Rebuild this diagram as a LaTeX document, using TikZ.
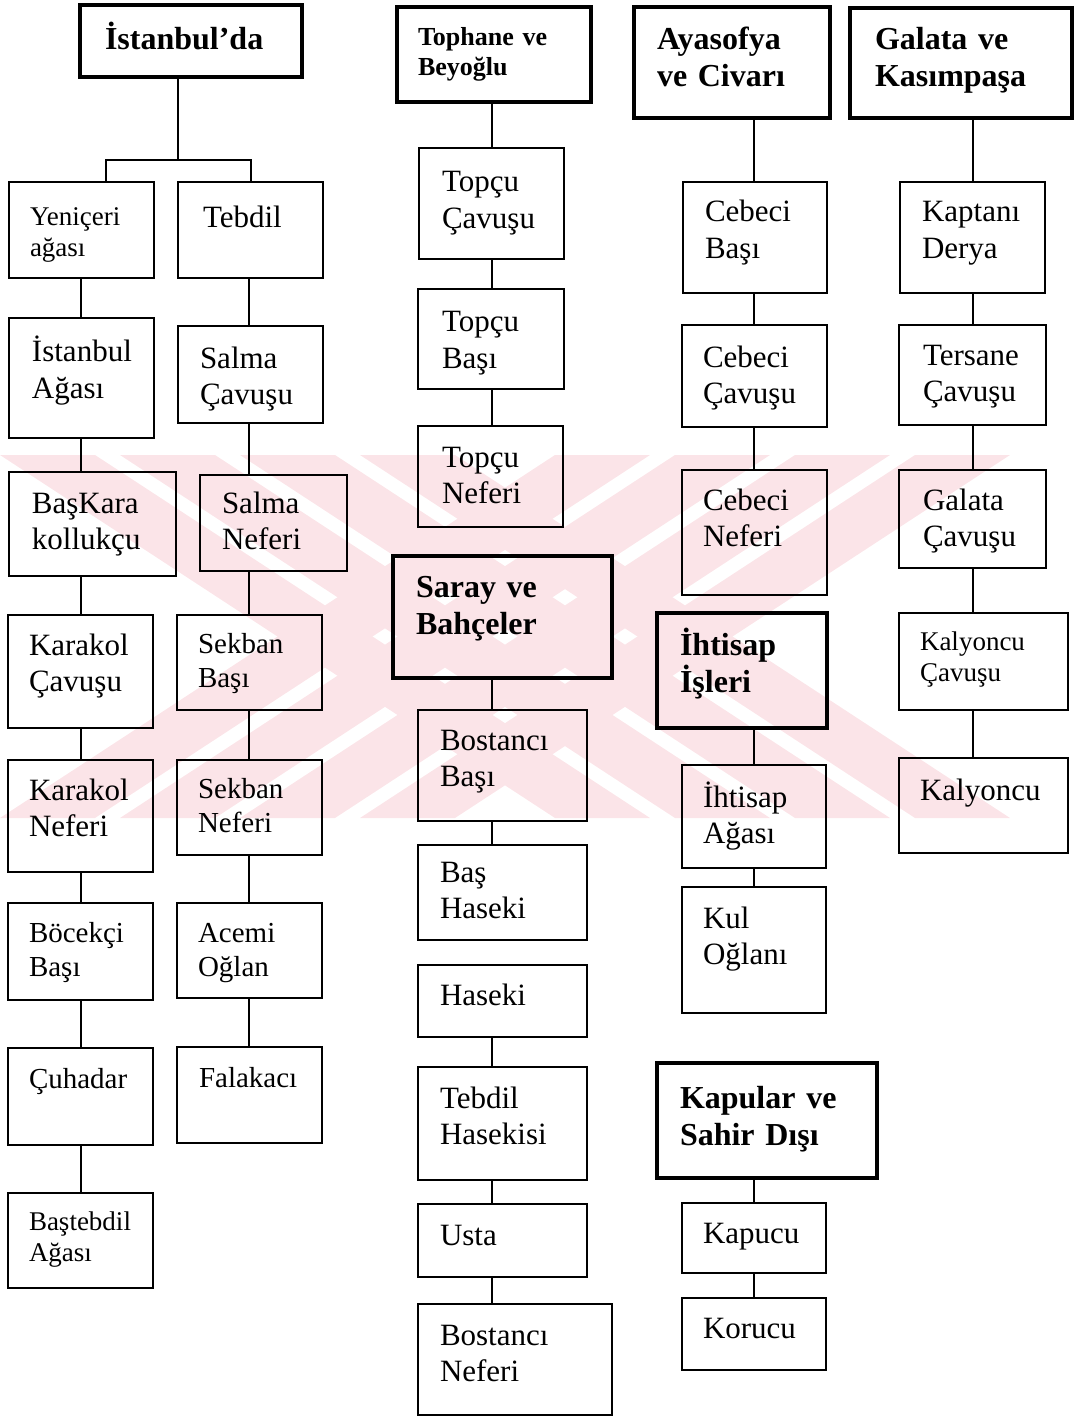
\documentclass[tikz,border=0pt]{standalone}
\usepackage{fontspec}
\setmainfont{Liberation Serif}
\hyphenpenalty=10000
\exhyphenpenalty=10000
\definecolor{wm}{RGB}{251,228,232}
\tikzset{
  bxn/.style={draw, line width=0.9pt, rectangle, outer sep=0pt, align=left, font=\fontsize{15.5}{18.3}\selectfont},
  bxmid/.style={bxn, font=\fontsize{14.5}{17}\selectfont},
  bxsmall/.style={bxn, font=\fontsize{13.5}{15.5}\selectfont},
  bxhdr/.style={bxn, line width=2.2pt, font=\bfseries\fontsize{16}{18.5}\selectfont},
  bxhdrs/.style={bxhdr, font=\bfseries\fontsize{13}{14.8}\selectfont},
  conn/.style={line width=0.8pt},
  wmark/.style={fill=wm, draw=none},
}
% name, style, x1, y1, x2, y2, text x, first baseline y, text
\newcommand\bx[9]{%
  \pgfmathsetlengthmacro\bxdx{(#7-#3)*0.5pt}%
  \pgfmathsetlengthmacro\bxtw{((#5-#3)-2*(#7-#3))*0.5pt}%
  \pgfmathsetlengthmacro\bxth{(#8-#4)*0.5pt}%
  \pgfmathsetlengthmacro\bxtd{(#6-#8)*0.5pt}%
  \node[#2, anchor=north west, inner xsep=\bxdx, inner ysep=0pt, text width=\bxtw, text height=\bxth, text depth=\bxtd] (#1) at (#3,#4) {#9};%
}
\begin{document}
\begin{tikzpicture}[x=0.5pt, y=-0.5pt]
\useasboundingbox (0,0) rectangle (1073,1417);
% faint watermark: a broad hatched X
\begin{scope}
  \clip (0,455) rectangle (1012,818);
  \foreach \s in {0,120,240,360}{
    \fill[wmark] (\s,455) -- ({\s+95},455) -- ({\s+95+555},818) -- ({\s+555},818) -- cycle;
    \fill[wmark] ({\s+555},455) -- ({\s+555+95},455) -- ({\s+95},818) -- (\s,818) -- cycle;
  }
\end{scope}
% column 1
\bx{hist}{bxhdr}{80}{5}{302}{77}{105}{50}{İstanbul’da}
\bx{yen}{bxsmall}{9}{182}{154}{278}{30}{226}{Yeniçeri\\ağası}
\bx{teb}{bxn}{178}{182}{323}{278}{203}{228}{Tebdil}
\bx{ista}{bxn}{9}{318}{154}{438}{32}{362}{İstanbul\\Ağası}
\bx{salc}{bxn}{178}{326}{323}{423}{200}{368}{Salma\\Çavuşu}
\bx{bask}{bxn}{9}{472}{176}{576}{32}{513}{BaşKara\\kollukçu}
\bx{saln}{bxn}{200}{475}{347}{571}{222}{513}{Salma\\Neferi}
\bx{karc}{bxn}{8}{615}{153}{728}{29}{655}{Karakol\\Çavuşu}
\bx{sekb}{bxmid}{177}{615}{322}{710}{198}{653}{Sekban\\Başı}
\bx{kark}{bxn}{8}{760}{153}{872}{29}{800}{Karakol\\Neferi}
\bx{sekn}{bxmid}{177}{760}{322}{855}{198}{798}{Sekban\\Neferi}
\bx{boc}{bxmid}{8}{903}{153}{1000}{29}{942}{Böcekçi\\Başı}
\bx{ace}{bxmid}{177}{903}{322}{998}{198}{942}{Acemi\\Oğlan}
\bx{cuh}{bxmid}{8}{1048}{153}{1145}{29}{1088}{Çuhadar}
\bx{fal}{bxmid}{177}{1047}{322}{1143}{199}{1087}{Falakacı}
\bx{bast}{bxsmall}{8}{1193}{153}{1288}{29}{1230}{Baştebdil\\Ağası}
% column 2
\bx{toph}{bxhdrs}{397}{7}{591}{102}{418}{46}{Tophane ve\\Beyoğlu}
\bx{tpc}{bxn}{419}{148}{564}{259}{442}{192}{Topçu\\Çavuşu}
\bx{tpb}{bxn}{418}{289}{564}{389}{442}{332}{Topçu\\Başı}
\bx{tpn}{bxn}{418}{426}{563}{527}{442}{467}{Topçu\\Neferi}
\bx{sar}{bxhdr}{393}{556}{612}{678}{416}{597}{Saray ve\\Bahçeler}
\bx{bosb}{bxn}{418}{710}{587}{821}{440}{750}{Bostancı\\Başı}
\bx{bash}{bxn}{418}{845}{587}{940}{440}{882}{Baş\\Haseki}
\bx{has}{bxn}{418}{965}{587}{1037}{440}{1005}{Haseki}
\bx{tebh}{bxn}{418}{1067}{587}{1180}{440}{1108}{Tebdil\\Hasekisi}
\bx{usta}{bxn}{418}{1204}{587}{1277}{440}{1245}{Usta}
\bx{bosn}{bxn}{418}{1304}{612}{1415}{440}{1345}{Bostancı\\Neferi}
% column 3
\bx{aya}{bxhdr}{634}{7}{830}{118}{657}{50}{Ayasofya\\ve Civarı}
\bx{ceb}{bxn}{683}{182}{827}{293}{705}{222}{Cebeci\\Başı}
\bx{cec}{bxn}{682}{325}{827}{427}{703}{367}{Cebeci\\Çavuşu}
\bx{cen}{bxn}{682}{470}{827}{595}{703}{510}{Cebeci\\Neferi}
\bx{iht}{bxhdr}{657}{613}{827}{728}{680}{655}{İhtisap\\İşleri}
\bx{iha}{bxn}{682}{765}{826}{868}{703}{807}{İhtisap\\Ağası}
\bx{kul}{bxn}{682}{887}{826}{1013}{703}{928}{Kul\\Oğlanı}
\bx{kap}{bxhdr}{657}{1063}{877}{1178}{680}{1108}{Kapular ve\\Sahir Dışı}
\bx{kpc}{bxn}{682}{1203}{826}{1273}{703}{1243}{Kapucu}
\bx{kor}{bxn}{682}{1298}{826}{1370}{703}{1338}{Korucu}
% column 4
\bx{gal}{bxhdr}{850}{8}{1072}{118}{875}{50}{Galata ve\\Kasımpaşa}
\bx{kpt}{bxn}{900}{182}{1045}{293}{922}{222}{Kaptanı\\Derya}
\bx{ter}{bxn}{899}{325}{1046}{425}{923}{365}{Tersane\\Çavuşu}
\bx{glc}{bxn}{899}{470}{1046}{568}{923}{510}{Galata\\Çavuşu}
\bx{kyc}{bxsmall}{899}{613}{1068}{710}{920}{650}{Kalyoncu\\Çavuşu}
\bx{kyl}{bxn}{899}{758}{1068}{853}{920}{800}{Kalyoncu}
% connector columns
\coordinate (xa) at (81,0);
\coordinate (xb) at (249,0);
\coordinate (xc) at (492,0);
\coordinate (xd) at (754,0);
\coordinate (xe) at (973,0);
\coordinate (bt) at (178,160);
\coordinate (bl) at (106,160);
\coordinate (br) at (251,160);
\draw[conn] (hist.south -| bt) -- (bt);
\draw[conn] (yen.north -| bl) -- (bl) -- (br) -- (teb.north -| br);
\foreach \a/\b in {yen/ista, ista/bask, bask/karc, karc/kark, kark/boc, boc/cuh, cuh/bast}
  \draw[conn] (\a.south -| xa) -- (\b.north -| xa);
\foreach \a/\b in {teb/salc, salc/saln, saln/sekb, sekb/sekn, sekn/ace, ace/fal}
  \draw[conn] (\a.south -| xb) -- (\b.north -| xb);
\foreach \a/\b in {toph/tpc, tpc/tpb, tpb/tpn, sar/bosb, bosb/bash, has/tebh, tebh/usta, usta/bosn}
  \draw[conn] (\a.south -| xc) -- (\b.north -| xc);
\foreach \a/\b in {aya/ceb, ceb/cec, cec/cen, iht/iha, iha/kul, kap/kpc, kpc/kor}
  \draw[conn] (\a.south -| xd) -- (\b.north -| xd);
\foreach \a/\b in {gal/kpt, kpt/ter, ter/glc, glc/kyc, kyc/kyl}
  \draw[conn] (\a.south -| xe) -- (\b.north -| xe);
\end{tikzpicture}
\end{document}
